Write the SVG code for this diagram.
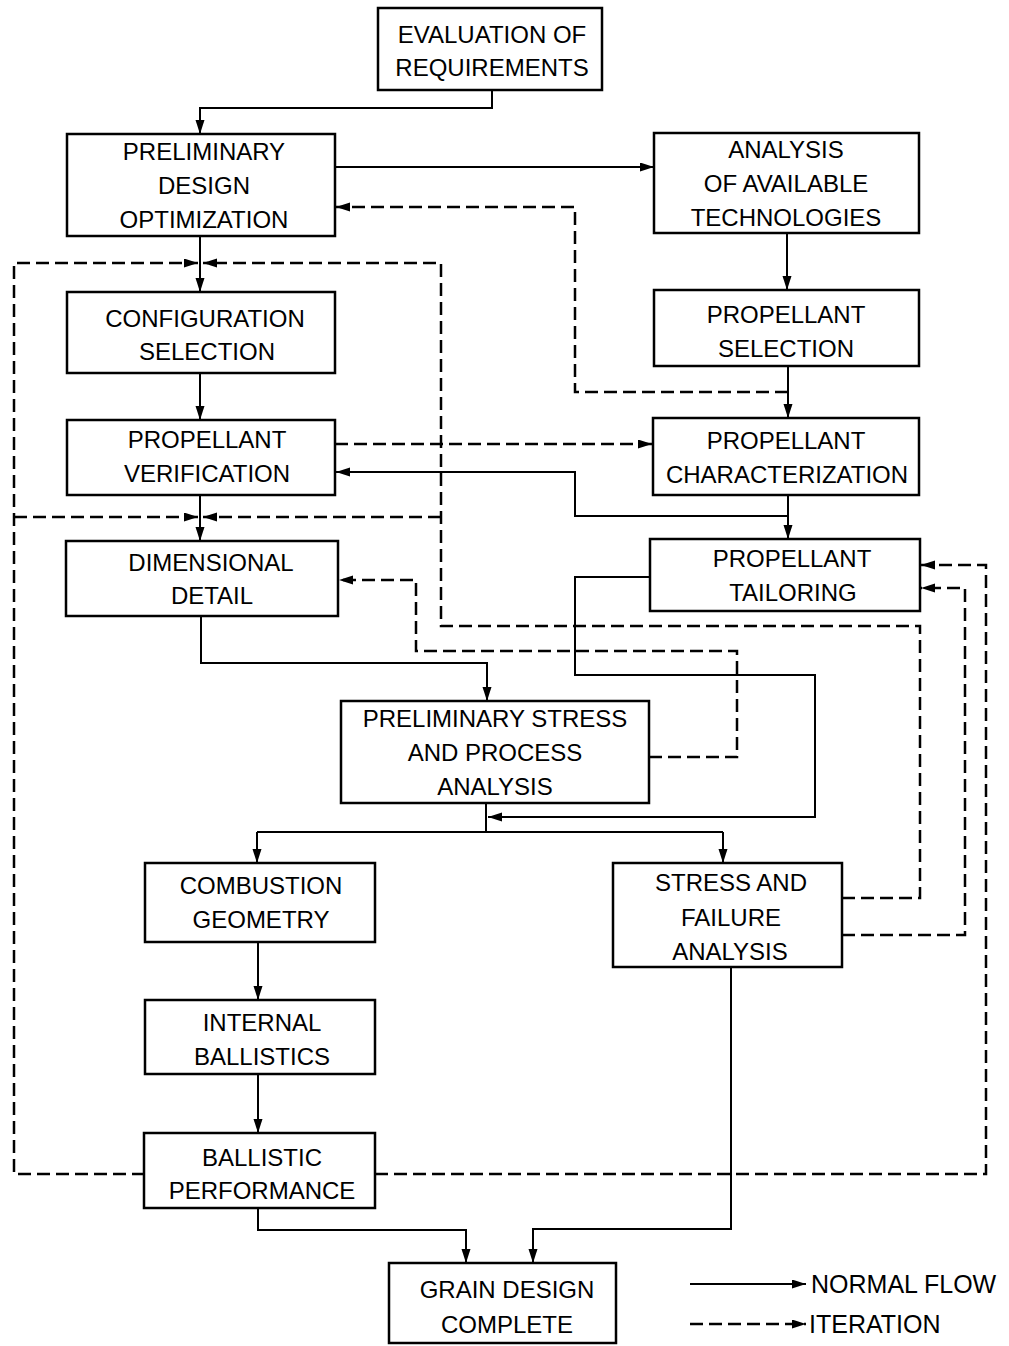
<svg xmlns="http://www.w3.org/2000/svg" width="1009" height="1346" viewBox="0 0 1009 1346">
<style>
.box rect{fill:#fff;stroke:#000;stroke-width:2.5}
text{font-family:"Liberation Sans",Arial,sans-serif;font-size:24px;fill:#000;text-anchor:middle}
.legend{text-anchor:start;font-size:25px}
.c path{fill:none;stroke:#000;stroke-width:2}
.c path.d{stroke-dasharray:13 6;stroke-width:2.5}
</style>
<defs>
<marker id="ah" markerUnits="userSpaceOnUse" markerWidth="15" markerHeight="10" refX="14" refY="4.5" orient="auto">
<path d="M0,0 L14,4.5 L0,9 z" fill="#000"/>
</marker>
</defs>
<rect width="1009" height="1346" fill="#fff"/>
<g id="connectors" class="c">
<path d="M492,90 V108 H200 V134" marker-end="url(#ah)"/>
<path d="M335,167 H654" marker-end="url(#ah)"/>
<path d="M787,233 V290" marker-end="url(#ah)"/>
<path d="M788,366 V418" marker-end="url(#ah)"/>
<path d="M200,236 V292" marker-end="url(#ah)"/>
<path d="M200,373 V420" marker-end="url(#ah)"/>
<path d="M788,495 V539" marker-end="url(#ah)"/>
<path d="M788,516 H575 V472 H336" marker-end="url(#ah)"/>
<path d="M200,495 V541" marker-end="url(#ah)"/>
<path d="M201,616 V663 H487 V701" marker-end="url(#ah)"/>
<path d="M650,577 H575 V675 H815 V817 H488" marker-end="url(#ah)"/>
<path d="M486,803 V832"/>
<path d="M257,832 H723"/>
<path d="M257,832 V863" marker-end="url(#ah)"/>
<path d="M723,832 V863" marker-end="url(#ah)"/>
<path d="M258,942 V1000" marker-end="url(#ah)"/>
<path d="M258,1074 V1133" marker-end="url(#ah)"/>
<path d="M258,1208 V1230 H466 V1263" marker-end="url(#ah)"/>
<path d="M731,967 V1229 H533 V1263" marker-end="url(#ah)"/>
<path class="d" d="M788,392 H575 V207 H336" marker-end="url(#ah)"/>
<path class="d" d="M842,898 H920 V626 H441 V263 H203" marker-end="url(#ah)"/>
<path class="d" d="M441,517 H203" marker-end="url(#ah)"/>
<path class="d" d="M145,1174 H14 V263 H198" marker-end="url(#ah)"/>
<path class="d" d="M14,517 H198" marker-end="url(#ah)"/>
<path class="d" d="M335,444 H652" marker-end="url(#ah)"/>
<path class="d" d="M649,757 H737 V651 H416 V580 H339" marker-end="url(#ah)"/>
<path class="d" d="M842,935 H965 V588 H921" marker-end="url(#ah)"/>
<path class="d" d="M375,1174 H986 V565 H921" marker-end="url(#ah)"/>
</g>
<g id="eval" class="box"><rect x="378" y="8" width="224" height="82"/><text x="492" y="43">EVALUATION OF</text><text x="492" y="76">REQUIREMENTS</text></g>
<g id="pdo" class="box"><rect x="67" y="134" width="268" height="102"/><text x="204" y="160">PRELIMINARY</text><text x="204" y="194">DESIGN</text><text x="204" y="228">OPTIMIZATION</text></g>
<g id="analysis" class="box"><rect x="654" y="133" width="265" height="100"/><text x="786" y="158">ANALYSIS</text><text x="786" y="192">OF AVAILABLE</text><text x="786" y="226">TECHNOLOGIES</text></g>
<g id="config" class="box"><rect x="67" y="292" width="268" height="81"/><text x="205" y="327">CONFIGURATION</text><text x="207" y="360">SELECTION</text></g>
<g id="propsel" class="box"><rect x="654" y="290" width="265" height="76"/><text x="786" y="323">PROPELLANT</text><text x="786" y="357">SELECTION</text></g>
<g id="propver" class="box"><rect x="67" y="420" width="268" height="75"/><text x="207" y="448">PROPELLANT</text><text x="207" y="482">VERIFICATION</text></g>
<g id="propchar" class="box"><rect x="653" y="418" width="266" height="77"/><text x="786" y="449">PROPELLANT</text><text x="787" y="483">CHARACTERIZATION</text></g>
<g id="dimdetail" class="box"><rect x="66" y="541" width="272" height="75"/><text x="211" y="571">DIMENSIONAL</text><text x="212" y="604">DETAIL</text></g>
<g id="proptail" class="box"><rect x="650" y="539" width="270" height="72"/><text x="792" y="567">PROPELLANT</text><text x="793" y="601">TAILORING</text></g>
<g id="pspa" class="box"><rect x="341" y="701" width="308" height="102"/><text x="495" y="727">PRELIMINARY STRESS</text><text x="495" y="761">AND PROCESS</text><text x="495" y="795">ANALYSIS</text></g>
<g id="combgeo" class="box"><rect x="145" y="863" width="230" height="79"/><text x="261" y="894">COMBUSTION</text><text x="261" y="928">GEOMETRY</text></g>
<g id="sfa" class="box"><rect x="613" y="863" width="229" height="104"/><text x="731" y="891">STRESS AND</text><text x="731" y="926">FAILURE</text><text x="730" y="960">ANALYSIS</text></g>
<g id="intball" class="box"><rect x="145" y="1000" width="230" height="74"/><text x="262" y="1031">INTERNAL</text><text x="262" y="1065">BALLISTICS</text></g>
<g id="ballperf" class="box"><rect x="144" y="1133" width="231" height="75"/><text x="262" y="1166">BALLISTIC</text><text x="262" y="1199">PERFORMANCE</text></g>
<g id="grain" class="box"><rect x="389" y="1263" width="227" height="80"/><text x="507" y="1298">GRAIN DESIGN</text><text x="507" y="1333">COMPLETE</text></g>
<g id="legend" class="c">
<path d="M690,1284 H806" marker-end="url(#ah)"/>
<path class="d" d="M690,1324 H806" marker-end="url(#ah)"/>
<text class="legend" x="811" y="1293">NORMAL FLOW</text>
<text class="legend" x="809" y="1333">ITERATION</text>
</g>
</svg>
